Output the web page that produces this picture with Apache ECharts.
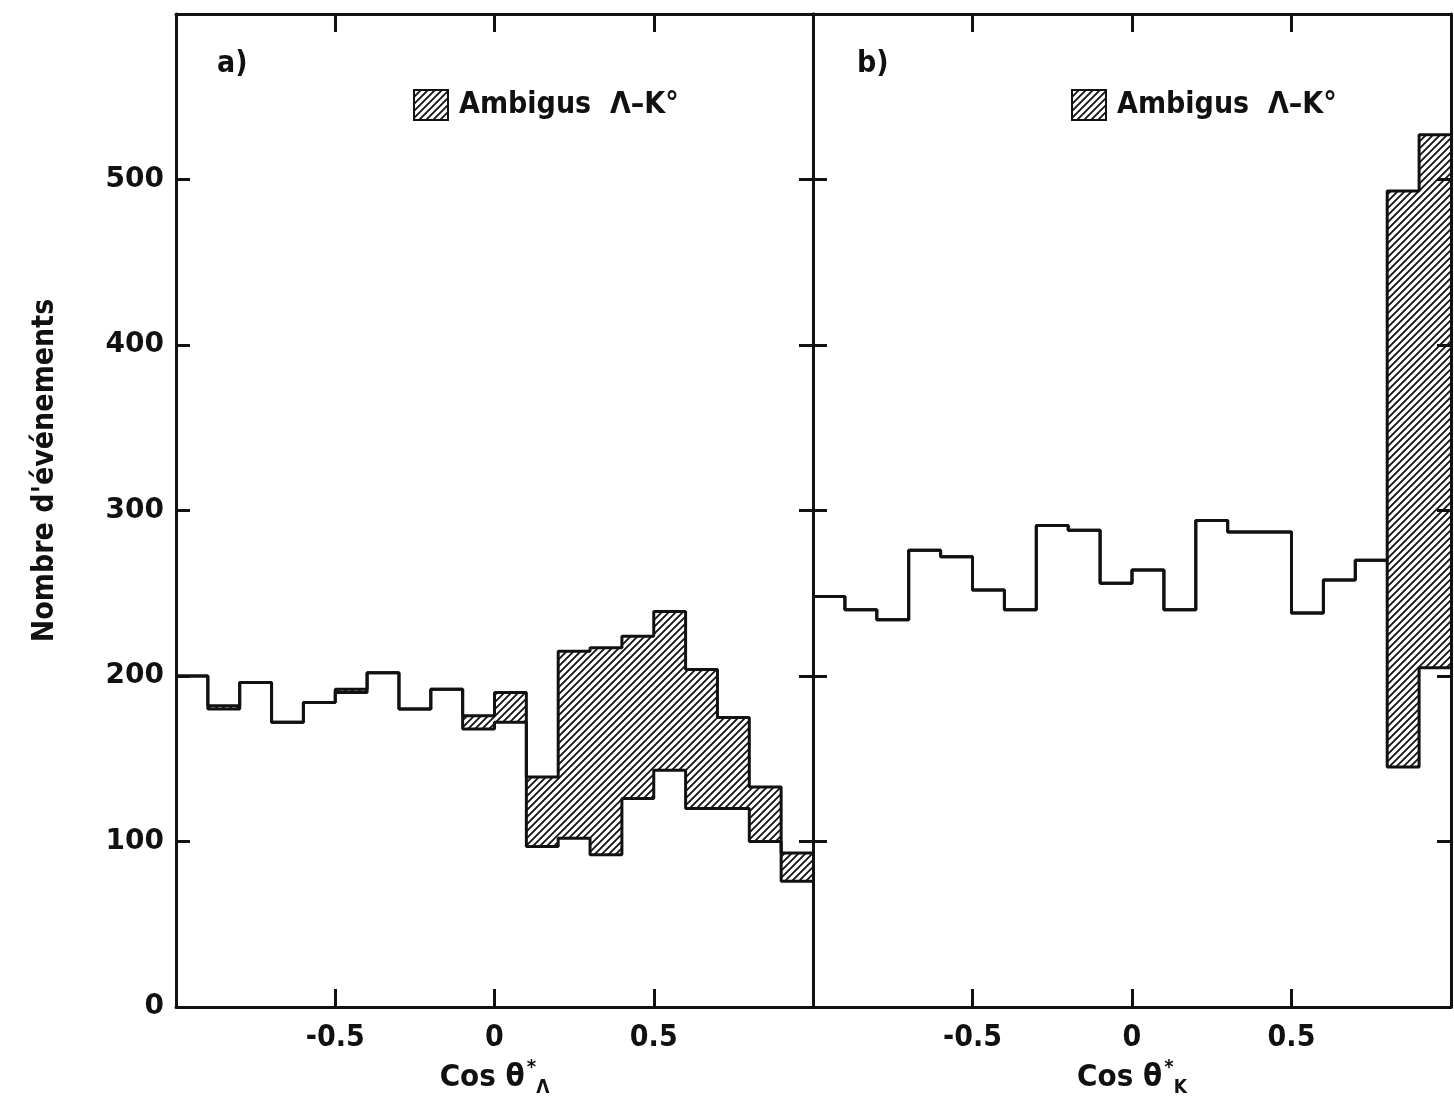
<!DOCTYPE html>
<html>
<head>
<meta charset="utf-8">
<script src="https://cdn.jsdelivr.net/npm/echarts@6/dist/echarts.min.js"></script>
<style>
  html, body { margin: 0; padding: 0; background: #fff; }
  #chart { width: 1454px; height: 1113px; }
</style>
</head>
<body>
<div id="chart"></div>
<script>
// bin edges of cos theta* (20 bins of 0.1)
const binEdges = [-1.0, -0.9, -0.8, -0.7, -0.6, -0.5, -0.4, -0.3, -0.2, -0.1, 0.0,
  0.1, 0.2, 0.3, 0.4, 0.5, 0.6, 0.7, 0.8, 0.9, 1.0];

// a) cos theta*_Lambda : total (top of hatched) and non ambiguous events
const totalA = [200, 182, 196, 172, 184, 192, 202, 180, 192, 176,
  190, 139, 215, 217, 224, 239, 204, 175, 133, 93];
const unambA = [200, 180, 196, 172, 184, 190, 202, 180, 192, 168,
  172, 97, 102, 92, 126, 143, 120, 120, 100, 76];

// b) cos theta*_K
const totalB = [248, 240, 234, 276, 272, 252, 240, 291, 288, 256,
  264, 240, 294, 287, 287, 238, 258, 270, 493, 527];
const unambB = [248, 240, 234, 276, 272, 252, 240, 291, 288, 256,
  264, 240, 294, 287, 287, 238, 258, 270, 145, 205];

const xLabels = ['-0.5', '0', '0.5'];
const yLabels = ['0', '100', '200', '300', '400', '500'];
const legendName = 'Ambigus  Λ–K°';

const font = '"DejaVu Sans Condensed", "DejaVu Sans", sans-serif';
const ink = '#111';

function stepData(vals) {
  const d = vals.map((v, i) => [binEdges[i], v]);
  d.push([binEdges[vals.length], vals[vals.length - 1]]);
  return d;
}

function makeHatch() {
  const c = document.createElement('canvas');
  c.width = 7; c.height = 7;
  const g = c.getContext('2d');
  g.fillStyle = '#fff';
  g.fillRect(0, 0, 7, 7);
  g.strokeStyle = ink;
  g.lineWidth = 1.8;
  g.beginPath();
  g.moveTo(-1, 8); g.lineTo(8, -1);
  g.moveTo(-1, 1); g.lineTo(1, -1);
  g.moveTo(6, 8); g.lineTo(8, 6);
  g.stroke();
  return c;
}
const hatch = { image: makeHatch(), repeat: 'repeat' };

function xAx(grid, pos, name) {
  return {
    gridIndex: grid, type: 'value', position: pos, min: -1, max: 1, interval: 0.5, z: 10,
    axisLine: { onZero: false, lineStyle: { color: ink, width: 3 } },
    axisTick: { show: true, inside: true, length: 18, lineStyle: { color: ink, width: 3 } },
    splitLine: { show: false },
    axisLabel: {
      show: pos === 'bottom', margin: 16, fontSize: 30, fontWeight: 'bold', fontFamily: font, color: ink,
      formatter: v => {
        const s = String(v);
        return xLabels.indexOf(s) >= 0 ? s : '';
      }
    },
    name: pos === 'bottom' ? name : '',
    nameLocation: 'middle', nameGap: 50,
    nameTextStyle: {
      fontFamily: font, fontWeight: 'bold', color: ink,
      rich: {
        m: { fontSize: 31, fontWeight: 'bold', fontFamily: font, color: ink, lineHeight: 40 },
        sup: { fontSize: 20, fontWeight: 'bold', fontFamily: font, color: ink, verticalAlign: 'top', padding: [0, 0, 0, 2] },
        sub: { fontSize: 19, fontWeight: 'bold', fontFamily: font, color: ink, verticalAlign: 'bottom', padding: [0, 0, 0, 0] }
      }
    }
  };
}

function yAx(grid, pos, labels) {
  return {
    gridIndex: grid, type: 'value', position: pos, min: 0, max: 600, interval: 100, z: 10,
    axisLine: { show: true, onZero: false, lineStyle: { color: ink, width: 3 } },
    axisTick: { show: true, inside: true, length: 14, lineStyle: { color: ink, width: 3 } },
    splitLine: { show: false },
    axisLabel: {
      show: labels, margin: 12, fontSize: 28, fontWeight: 'bold', fontFamily: '"DejaVu Sans", sans-serif', color: ink,
      formatter: v => (yLabels.indexOf(String(v)) >= 0 ? String(v) : '')
    },
    name: labels ? "Nombre d'événements" : '',
    nameLocation: 'middle', nameGap: 116, nameRotate: 90,
    nameTextStyle: { fontSize: 30, fontWeight: 'bold', fontFamily: font, color: ink, padding: [0, 0, 0, 80] }
  };
}

function panelSeries(xi, yi, total, unamb) {
  const base = {
    type: 'line', step: 'end', xAxisIndex: xi, yAxisIndex: yi,
    symbol: 'none', showSymbol: false, silent: true, animation: false
  };
  return [
    Object.assign({}, base, {
      name: legendName, data: stepData(total),
      itemStyle: { color: hatch },
      lineStyle: { width: 0, opacity: 0 },
      areaStyle: { color: hatch, opacity: 1 }
    }),
    Object.assign({}, base, {
      name: 'non ambigus', data: stepData(unamb),
      lineStyle: { width: 0, opacity: 0 },
      areaStyle: { color: '#fff', opacity: 1 }
    }),
    Object.assign({}, base, {
      name: 'total', data: stepData(total),
      lineStyle: { color: ink, width: 3 }
    }),
    Object.assign({}, base, {
      name: 'non ambigus ligne', data: stepData(unamb),
      lineStyle: { color: ink, width: 3 }
    })
  ];
}

function legendAt(left) {
  return {
    left: left, top: 84, orient: 'horizontal',
    data: [{ name: legendName, icon: 'rect' }],
    itemWidth: 34, itemHeight: 30, itemGap: 10, selectedMode: false,
    itemStyle: { color: hatch, borderColor: ink, borderWidth: 2 },
    textStyle: { fontSize: 30, fontWeight: 'bold', fontFamily: font, color: ink, padding: [4, 0, 0, 6] }
  };
}

const chart = echarts.init(document.getElementById('chart'));
chart.setOption({
  backgroundColor: '#fff',
  animation: false,
  title: [
    { text: 'a)', left: 212, top: 44, textStyle: { fontSize: 30, fontWeight: 'bold', fontFamily: font, color: ink } },
    { text: 'b)', left: 852, top: 44, textStyle: { fontSize: 30, fontWeight: 'bold', fontFamily: font, color: ink } }
  ],
  legend: [legendAt(408), legendAt(1066)],
  grid: [
    { left: 176, top: 14, width: 637, height: 993 },
    { left: 813, top: 14, width: 639, height: 993 }
  ],
  xAxis: [
    xAx(0, 'bottom', '{m|Cos θ}{sup|*}{sub|Λ}'),
    xAx(0, 'top', ''),
    xAx(1, 'bottom', '{m|Cos θ}{sup|*}{sub|K}'),
    xAx(1, 'top', '')
  ],
  yAxis: [
    yAx(0, 'left', true),
    yAx(0, 'right', false),
    yAx(1, 'left', false),
    yAx(1, 'right', false)
  ],
  series: [].concat(
    panelSeries(0, 0, totalA, unambA),
    panelSeries(2, 2, totalB, unambB)
  )
});
</script>
</body>
</html>
